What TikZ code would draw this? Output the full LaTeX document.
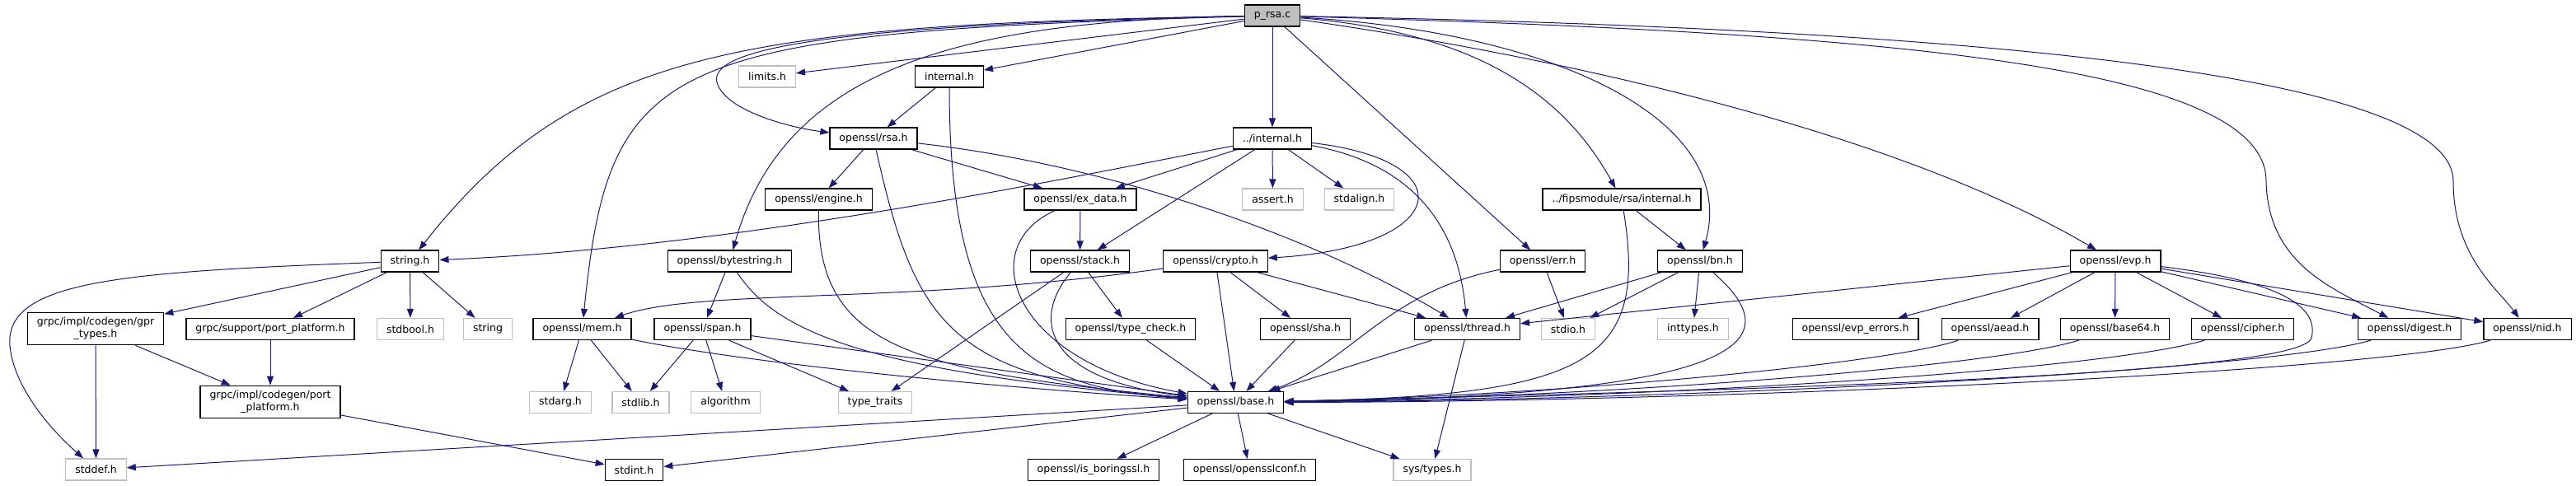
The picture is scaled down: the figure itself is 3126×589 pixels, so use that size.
\documentclass[tikz,border=0pt]{standalone}
\usepackage{fontspec}
\setmainfont{DejaVu Sans}
\usetikzlibrary{arrows.meta}
\definecolor{midnight_blue}{RGB}{25,25,112}
\definecolor{light_gray}{RGB}{191,191,191}

\begin{document}
\begin{tikzpicture}[x=1pt,y=-1pt,
	hdr/.style={rectangle,draw=black,fill=white,line width=1.2pt,minimum height=26pt,inner xsep=11.5pt,inner ysep=6pt,align=center,font=\fontsize{12.5}{15}\selectfont},
	sys/.style={hdr,draw=light_gray},
	src/.style={hdr,fill=light_gray},
	dep/.style={midnight_blue,line width=1pt,-{Triangle[length=11pt,width=8pt]}}]
	\useasboundingbox (0,0) rectangle (3126,589);

	\node[src] (1) at (1544,19) {p\_rsa.c};
	\node[sys] (2) at (931,93) {limits.h};
	\node[hdr] (3) at (1152,93) {internal.h};
	\node[hdr] (4) at (1060,168) {openssl/rsa.h};
	\node[hdr] (5) at (1544,168) {../internal.h};
	\node[hdr] (6) at (993.5,242) {openssl/engine.h};
	\node[hdr] (7) at (1311,242) {openssl/ex\_data.h};
	\node[sys] (8) at (1544.5,242) {assert.h};
	\node[sys] (9) at (1649.5,242) {stdalign.h};
	\node[hdr] (10) at (1968,242) {../fipsmodule/rsa/internal.h};
	\node[hdr] (11) at (497.5,317) {string.h};
	\node[hdr] (12) at (885.5,317) {openssl/bytestring.h};
	\node[hdr] (13) at (1310.5,317) {openssl/stack.h};
	\node[hdr] (14) at (1475,317) {openssl/crypto.h};
	\node[hdr] (15) at (1872,317) {openssl/err.h};
	\node[hdr] (16) at (2063,317) {openssl/bn.h};
	\node[hdr] (17) at (2567,317) {openssl/evp.h};
	\node[hdr] (18) at (116,399) {grpc/impl/codegen/gpr\\\_types.h};
	\node[hdr] (19) at (328,399.5) {grpc/support/port\_platform.h};
	\node[sys] (20) at (498,399.5) {stdbool.h};
	\node[sys] (21) at (592,399.5) {string};
	\node[hdr] (22) at (706.5,399.5) {openssl/mem.h};
	\node[hdr] (23) at (852.5,399.5) {openssl/span.h};
	\node[hdr] (24) at (1372,399.5) {openssl/type\_check.h};
	\node[hdr] (25) at (1584,399.5) {openssl/sha.h};
	\node[hdr] (26) at (1780.5,399.5) {openssl/thread.h};
	\node[sys] (27) at (1903,399.5) {stdio.h};
	\node[sys] (28) at (2054.5,399.5) {inttypes.h};
	\node[hdr] (29) at (2251.5,399.5) {openssl/evp\_errors.h};
	\node[hdr] (30) at (2415,399.5) {openssl/aead.h};
	\node[hdr] (31) at (2566.5,399.5) {openssl/base64.h};
	\node[hdr] (32) at (2721.5,399.5) {openssl/cipher.h};
	\node[hdr] (33) at (2924,399.5) {openssl/digest.h};
	\node[hdr] (34) at (3067,399.5) {openssl/nid.h};
	\node[hdr] (35) at (328,488) {grpc/impl/codegen/port\\\_platform.h};
	\node[sys] (36) at (680,488.5) {stdarg.h};
	\node[sys] (37) at (777.5,488.5) {stdlib.h};
	\node[sys] (38) at (880.5,488.5) {algorithm};
	\node[sys] (39) at (1062,488.5) {type\_traits};
	\node[hdr] (40) at (1499.5,488.5) {openssl/base.h};
	\node[sys] (41) at (116.5,570) {stddef.h};
	\node[hdr] (42) at (769.5,570.5) {stdint.h};
	\node[hdr] (43) at (1327,570.5) {openssl/is\_boringssl.h};
	\node[hdr] (44) at (1516.5,570.5) {openssl/opensslconf.h};
	\node[sys] (45) at (1738,570.5) {sys/types.h};

	\foreach \x/\y in {1/2,1/3,1/5,1/15,3/4,4/6,4/7,5/7,5/13,5/8,5/9,7/13,10/16,11/18,11/19,11/20,11/21,12/23,13/24,13/39,14/25,14/26,14/40,15/27,16/26,16/27,16/28,17/26,17/29,17/30,17/31,17/32,17/33,17/34,18/41,18/35,19/35,35/42,22/36,22/37,23/37,23/38,23/39,23/40,24/40,25/40,26/40,26/45,40/41,40/42,40/43,40/44,40/45}
		\draw[dep] (\x) -- (\y);

	\draw[dep] (1) .. controls (1000,30) and (860,60) .. (870,100) .. controls (880,135) and (960,155) .. (4);
	\draw[dep] (1) .. controls (900,30) and (700,60) .. (11);
	\draw[dep] (1) .. controls (800,40) and (740,70) .. (22);
	\draw[dep] (1) .. controls (1150,25) and (950,90) .. (12);
	\draw[dep] (1) .. controls (1800,40) and (1900,120) .. (10);
	\draw[dep] (1) .. controls (1900,40) and (2110,150) .. (16);
	\draw[dep] (1) .. controls (1900,70) and (2300,160) .. (17);
	\draw[dep] (1) .. controls (2300,40) and (2750,80) .. (2750,220) .. controls (2752,320) and (2830,350) .. (33);
	\draw[dep] (1) .. controls (2400,35) and (2977,90) .. (2977,220) .. controls (2977,310) and (3030,350) .. (34);
	\draw[dep] (3) .. controls (1152,420) and (1250,470) .. (40);
	\draw[dep] (4) .. controls (1110,390) and (1150,460) .. (40);
	\draw[dep] (4) .. controls (1350,200) and (1600,290) .. (26);
	\draw[dep] (5) .. controls (1300,215) and (900,300) .. (11);
	\draw[dep] (5) .. controls (1780,195) and (1760,300) .. (14);
	\draw[dep] (5) .. controls (1720,200) and (1770,280) .. (26);
	\draw[dep] (6) .. controls (991,420) and (1100,450) .. (40);
	\draw[dep] (7) .. controls (1180,300) and (1230,440) .. (40);
	\draw[dep] (12) .. controls (940,400) and (1040,450) .. (40);
	\draw[dep] (13) .. controls (1250,390) and (1270,460) .. (40);
	\draw[dep] (14) .. controls (1100,370) and (850,350) .. (22);
	\draw[dep] (15) .. controls (1680,355) and (1640,440) .. (40);
	\draw[dep] (10) .. controls (2000,440) and (1930,480) .. (40);
	\draw[dep] (16) .. controls (2170,410) and (2140,480) .. (40);
	\draw[dep] (17) .. controls (2760,340) and (2815,370) .. (2805,410) .. controls (2795,450) and (2300,470) .. (40);
	\draw[dep] (22) .. controls (900,440) and (1200,470) .. (40);
	\draw[dep] (30) .. controls (2300,440) and (1900,480) .. (40);
	\draw[dep] (31) .. controls (2420,445) and (1950,482) .. (40);
	\draw[dep] (32) .. controls (2550,450) and (2000,484) .. (40);
	\draw[dep] (33) .. controls (2750,450) and (2050,486) .. (40);
	\draw[dep] (34) .. controls (2900,450) and (2100,488) .. (40);
	\draw[dep] (11) .. controls (150,330) and (5,340) .. (12,420) .. controls (17,470) and (60,520) .. (41);
\end{tikzpicture}
\end{document}
